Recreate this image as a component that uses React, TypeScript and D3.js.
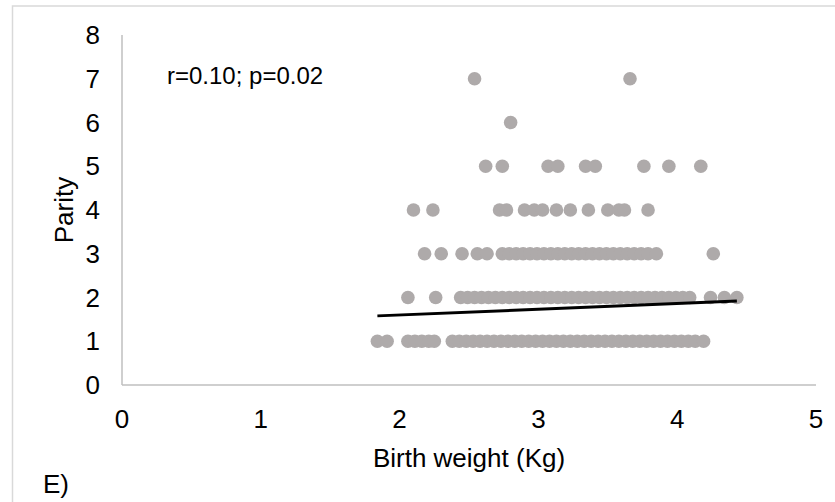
import React from "react";
import * as d3 from "d3";

// Birth weight (kg) values per parity level
const parity1 = [1.84, 1.91, 2.06, 2.11, 2.16, 2.21, 2.25, 2.38, 2.43, 2.48, 2.53, 2.58, 2.63, 2.68, 2.73, 2.78, 2.83, 2.88, 2.93, 2.98, 3.03, 3.08, 3.13, 3.18, 3.23, 3.28, 3.33, 3.38, 3.43, 3.48, 3.53, 3.58, 3.63, 3.68, 3.73, 3.78, 3.83, 3.88, 3.93, 3.98, 4.03, 4.08, 4.13, 4.19];
const parity2 = [2.06, 2.26, 2.44, 2.49, 2.54, 2.59, 2.64, 2.69, 2.74, 2.79, 2.84, 2.89, 2.94, 2.99, 3.04, 3.09, 3.14, 3.19, 3.24, 3.29, 3.34, 3.39, 3.44, 3.49, 3.54, 3.59, 3.64, 3.69, 3.74, 3.79, 3.84, 3.89, 3.94, 3.99, 4.04, 4.09, 4.24, 4.34, 4.43];
const parity3 = [2.18, 2.3, 2.45, 2.56, 2.63, 2.74, 2.79, 2.84, 2.89, 2.94, 2.99, 3.04, 3.09, 3.14, 3.19, 3.24, 3.29, 3.34, 3.39, 3.44, 3.49, 3.54, 3.59, 3.64, 3.69, 3.74, 3.79, 3.85, 4.26];
const parity4 = [2.1, 2.24, 2.72, 2.77, 2.9, 2.97, 3.03, 3.13, 3.23, 3.36, 3.5, 3.58, 3.62, 3.79];
const parity5 = [2.62, 2.74, 3.07, 3.14, 3.34, 3.41, 3.76, 3.94, 4.17];
const parity6 = [2.8];
const parity7 = [2.54, 3.66];

const parityLevels = [1, 2, 3, 4, 5, 6, 7];
const weightsByParity = [parity1, parity2, parity3, parity4, parity5, parity6, parity7];

const xTicks = [0, 1, 2, 3, 4, 5];
const yTicks = [0, 1, 2, 3, 4, 5, 6, 7, 8];

// Linear trend line end points (weight, parity)
const trendX = [1.84, 4.43];
const trendY = [1.58, 1.92];

const annotation = "r=0.10; p=0.02";
const xTitle = "Birth weight (Kg)";
const yTitle = "Parity";
const panelLabel = "E)";

export default function App() {
  const W = 835;
  const H = 502;
  const left = 122;
  const right = 816;
  const top = 35;
  const bottom = 385;

  const x = d3.scaleLinear().domain([0, 5]).range([left, right]);
  const y = d3.scaleLinear().domain([0, 8]).range([bottom, top]);

  const points: { w: number; p: number }[] = [];
  weightsByParity.forEach((arr, i) => {
    arr.forEach((w) => points.push({ w, p: parityLevels[i] }));
  });

  const line = d3
    .line<number>()
    .x((_, i) => x(trendX[i]))
    .y((d) => y(d));

  const font = "'Liberation Sans', Arial, sans-serif";

  return (
    <svg
      width={W}
      height={H}
      style={{ position: "absolute", left: 0, top: 0, background: "#fff" }}
      fontFamily={font}
    >
      <rect x={12.5} y={6} width={W} height={H} fill="#fff" stroke="#d9d9d9" strokeWidth={1.5} />
      {/* axes */}
      <line x1={left} x2={left} y1={top} y2={bottom} stroke="#bfbfbf" strokeWidth={1.5} />
      <line x1={left} x2={right} y1={bottom} y2={bottom} stroke="#bfbfbf" strokeWidth={1.5} />
      {yTicks.map((t) => (
        <text key={"y" + t} x={left - 22} y={y(t)} dy="0.35em" textAnchor="end" fontSize={26} fill="#000">
          {t}
        </text>
      ))}
      {xTicks.map((t) => (
        <text key={"x" + t} x={x(t)} y={419} dy="0.35em" textAnchor="middle" fontSize={26} fill="#000">
          {t}
        </text>
      ))}
      {points.map((d, i) => (
        <circle key={i} cx={x(d.w)} cy={y(d.p)} r={6.8} fill="#aeaaaa" />
      ))}
      <path d={line(trendY) || ""} stroke="#000" strokeWidth={3} fill="none" />
      <text x={167} y={76} dy="0.35em" fontSize={24} fill="#000">
        {annotation}
      </text>
      <text x={(left + right) / 2} y={458} dy="0.35em" textAnchor="middle" fontSize={26} fill="#000">
        {xTitle}
      </text>
      <text
        transform={`translate(64,${(top + bottom) / 2}) rotate(-90)`}
        dy="0.35em"
        textAnchor="middle"
        fontSize={26}
        fill="#000"
      >
        {yTitle}
      </text>
      <text x={43} y={484} dy="0.35em" fontSize={26} fill="#000">
        {panelLabel}
      </text>
    </svg>
  );
}
